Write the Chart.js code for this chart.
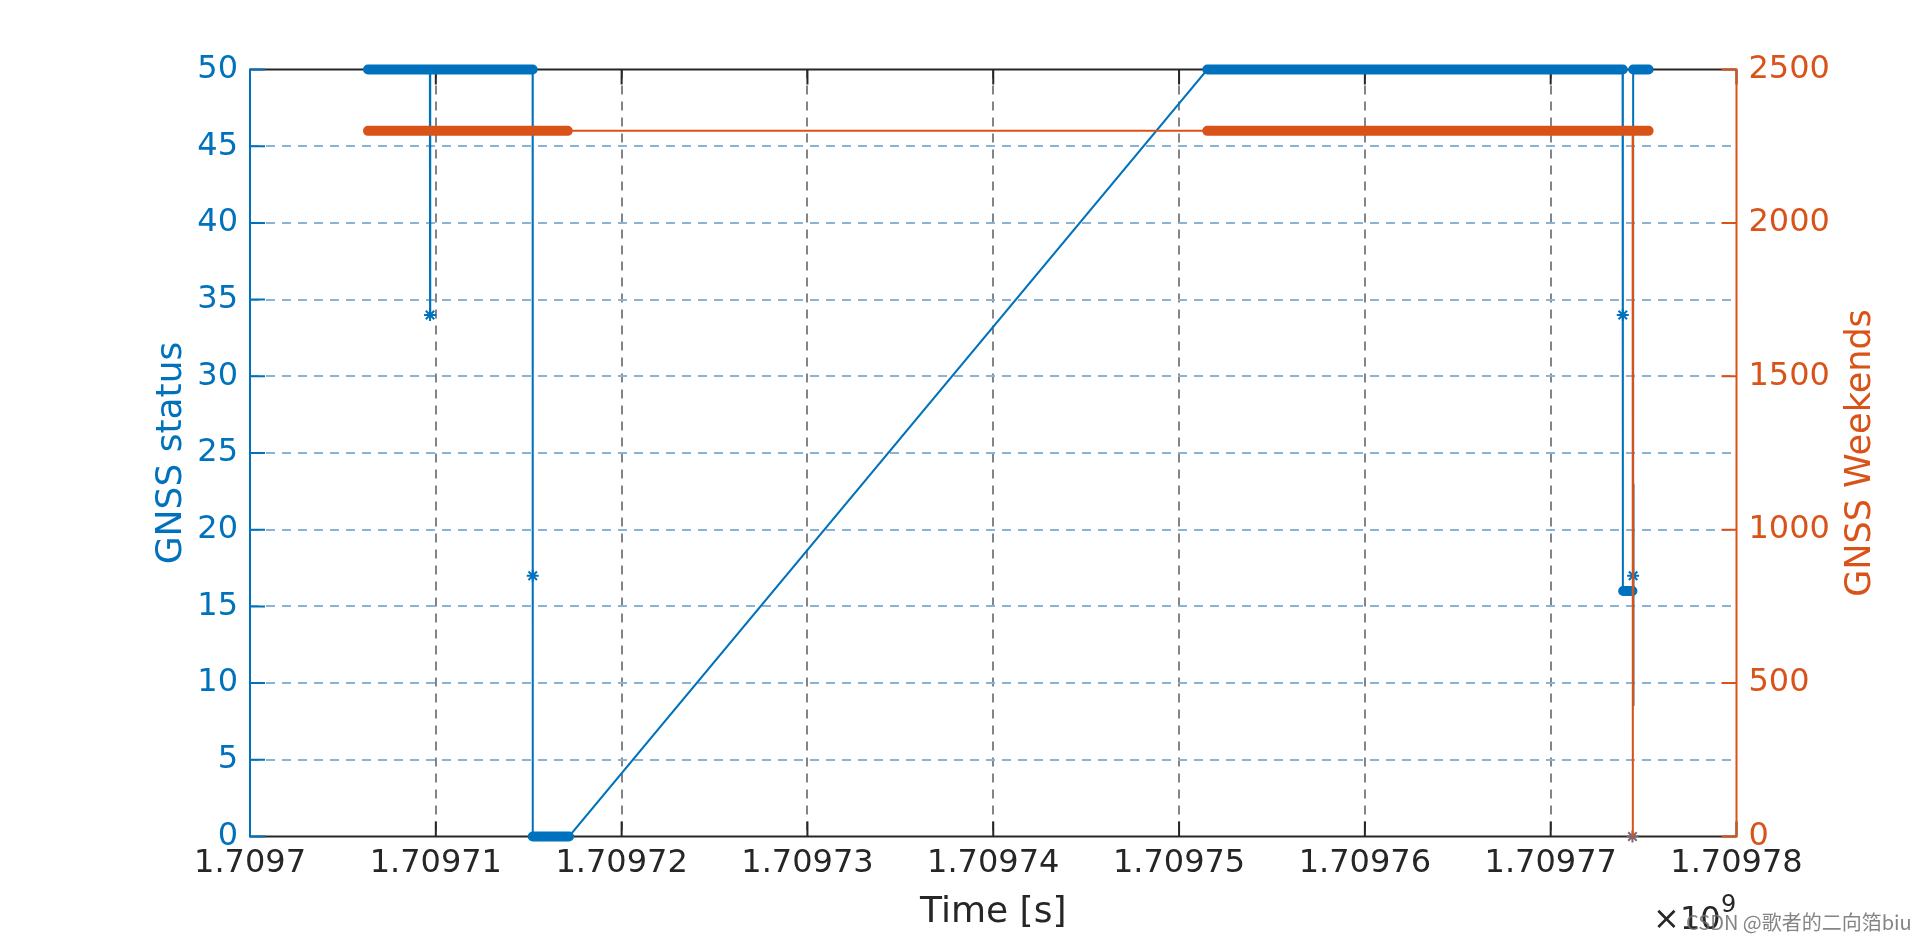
<!DOCTYPE html>
<html>
<head>
<meta charset="utf-8">
<script src="https://cdn.jsdelivr.net/npm/chart.js@4.4.0/dist/chart.umd.min.js"></script>
<style>
  body { margin: 0; background: #fff; }
  #wrap { position: relative; width: 1920px; height: 940px; }
  .note { position: absolute; white-space: nowrap; font-family: 'DejaVu Sans', sans-serif; color: #262626; }
</style>
</head>
<body>
<div id="wrap">
  <canvas id="myChart"></canvas>
  <div class="note" style="left:1653px; top:902px; font-size:32px; line-height:32px;">×</div>
  <div class="note" style="left:1680px; top:902px; font-size:32px; line-height:32px;">10</div>
  <div class="note" style="left:1721px; top:892px; font-size:24px; line-height:24px;">9</div>
  <div class="note" style="left:1686px; top:910px; font-size:20px; line-height:24px; color:rgba(110,110,110,0.85); font-family:'Noto Sans CJK SC', sans-serif;">CSDN @歌者的二向箔biu</div>
</div>
<script>
// GNSS status (left axis), thin line through every vertex
const statusTime = [1709706350, 1709709680, 1709709690, 1709709700, 1709715210, 1709715215, 1709715220,
  1709717170, 1709751520, 1709773870, 1709773880, 1709773890, 1709774430, 1709774436, 1709774440, 1709775270];
const statusValue = [50, 50, 34, 50, 50, 17, 0, 0, 50, 50, 34, 16, 16, 17, 50, 50];

// dense-sample stretches that show up as thick bands
const statusRunStart = [1709706350, 1709715215, 1709751520, 1709773900, 1709774440];
const statusRunEnd = [1709715215, 1709717170, 1709773880, 1709774400, 1709775270];
const statusRunValue = [50, 0, 50, 16, 50];

// single '*' markers that stand apart
const statusMarkTime = [1709709690, 1709715215, 1709773880, 1709774436];
const statusMarkValue = [34, 17, 34, 17];

// odd short grey trace near the end
const traceTime = [1709774470, 1709774470];
const traceValue = [23, 8.5];
const zeroMarkTime = [1709774400];
const zeroMarkValue = [0];

// GNSS week number (right axis)
const weekTime = [1709706350, 1709774410, 1709774420, 1709774430, 1709775270];
const weekValue = [2300, 2300, 0, 2300, 2300];
const weekRunStart = [1709706350, 1709751520];
const weekRunEnd = [1709717100, 1709775270];
const weekRunValue = [2300, 2300];

// axes
const xMin = 1709700000, xMax = 1709780000, xStep = 10000;
const statusMin = 0, statusMax = 50, statusStep = 5;
const weekMin = 0, weekMax = 2500, weekStep = 500;

const BLUE = '#0072BD';
const ORANGE = '#D95319';
const DARK = '#262626';
const FONT = "'DejaVu Sans', sans-serif";

function pairs(xs, ys) {
  return xs.map((x, i) => ({ x: x, y: ys[i] }));
}
function runs(starts, ends, vals) {
  var out = [];
  for (let i = 0; i < starts.length; i++) {
    out.push({ x: starts[i], y: vals[i] }, { x: ends[i], y: vals[i] }, { x: ends[i], y: null });
  }
  return out;
}
function edgeless(color, min, max) {
  return (ctx) => (ctx.tick && (ctx.tick.value === min || ctx.tick.value === max)) ? 'rgba(0,0,0,0)' : color;
}

// axis box + inward ticks, drawn under the data like MATLAB does
const boxPlugin = {
  id: 'box',
  beforeDatasetsDraw(chart) {
    const { ctx, chartArea: a, scales } = chart;
    const len = 15;
    ctx.save();
    ctx.lineWidth = 2;
    ctx.strokeStyle = DARK;
    ctx.beginPath();
    ctx.moveTo(a.left, a.top); ctx.lineTo(a.right, a.top);
    ctx.moveTo(a.left, a.bottom); ctx.lineTo(a.right, a.bottom);
    scales.x.ticks.forEach(t => {
      const px = scales.x.getPixelForValue(t.value);
      ctx.moveTo(px, a.bottom); ctx.lineTo(px, a.bottom - len);
      ctx.moveTo(px, a.top); ctx.lineTo(px, a.top + len);
    });
    ctx.stroke();

    ctx.strokeStyle = BLUE;
    ctx.beginPath();
    scales.y.ticks.forEach(t => {
      const py = scales.y.getPixelForValue(t.value);
      ctx.moveTo(a.left, py); ctx.lineTo(a.left + len, py);
    });
    ctx.moveTo(a.left, a.top - 1); ctx.lineTo(a.left, a.bottom + 1);
    ctx.stroke();

    ctx.strokeStyle = ORANGE;
    ctx.beginPath();
    scales.y2.ticks.forEach(t => {
      const py = scales.y2.getPixelForValue(t.value);
      ctx.moveTo(a.right, py); ctx.lineTo(a.right - len, py);
    });
    ctx.moveTo(a.right, a.top - 1); ctx.lineTo(a.right, a.bottom + 1);
    ctx.stroke();
    ctx.restore();
  },
  afterDraw(chart) {
    // right title reads bottom-to-top in the original
    const { ctx, chartArea: a } = chart;
    ctx.save();
    ctx.translate(a.right + 124, (a.top + a.bottom) / 2);
    ctx.rotate(-Math.PI / 2);
    ctx.font = '35px ' + FONT;
    ctx.fillStyle = ORANGE;
    ctx.textAlign = 'center';
    ctx.textBaseline = 'middle';
    ctx.fillText('GNSS Weekends', 0, 0);
    ctx.restore();
  }
};

const myChartRef = document.getElementById('myChart').getContext('2d');
new Chart(myChartRef, {
  type: 'scatter',
  data: {
    datasets: [
      {
        label: 'weeks bands', yAxisID: 'y2', data: runs(weekRunStart, weekRunEnd, weekRunValue), clip: false,
        showLine: true, spanGaps: false, borderColor: ORANGE, borderWidth: 10, borderCapStyle: 'round', pointRadius: 0
      },
      {
        label: 'weeks', yAxisID: 'y2', data: pairs(weekTime, weekValue), clip: false,
        showLine: true, borderColor: ORANGE, borderWidth: 2, pointRadius: 0
      },
      {
        label: 'zero mark', yAxisID: 'y', data: pairs(zeroMarkTime, zeroMarkValue), clip: false,
        pointStyle: 'star', pointRadius: 6, pointBorderWidth: 2, borderColor: '#7f6670', backgroundColor: '#7f6670'
      },
      {
        label: 'trace', yAxisID: 'y', data: pairs(traceTime, traceValue), clip: false,
        showLine: true, borderColor: '#52667a', borderWidth: 1.5, pointRadius: 0
      },
      {
        label: 'status marks', yAxisID: 'y', data: pairs(statusMarkTime, statusMarkValue), clip: false,
        pointStyle: 'star', pointRadius: 6, pointBorderWidth: 2, borderColor: BLUE, backgroundColor: BLUE
      },
      {
        label: 'status bands', yAxisID: 'y', data: runs(statusRunStart, statusRunEnd, statusRunValue), clip: false,
        showLine: true, spanGaps: false, borderColor: BLUE, borderWidth: 10, borderCapStyle: 'round', pointRadius: 0
      },
      {
        label: 'status', yAxisID: 'y', data: pairs(statusTime, statusValue), clip: false,
        showLine: true, borderColor: BLUE, borderWidth: 2, pointRadius: 0
      }
    ]
  },
  options: {
    responsive: true,
    maintainAspectRatio: false,
    animation: false,
    events: [],
    layout: { padding: { top: 69.5, left: 0, right: 0, bottom: 0 } },
    plugins: { legend: { display: false }, tooltip: { enabled: false } },
    scales: {
      x: {
        type: 'linear', min: xMin, max: xMax,
        afterFit: s => { s.height = 103.5; },
        ticks: {
          stepSize: xStep, padding: 8, color: DARK, font: { family: FONT, size: 32 },
          callback: v => String(Number((v / 1e9).toFixed(5)))
        },
        grid: { color: edgeless('#858585', xMin, xMax), lineWidth: 2, drawTicks: false },
        border: { display: false, dash: [9, 7] },
        title: { display: true, text: 'Time [s]', color: DARK, font: { family: FONT, size: 36 }, padding: { top: 0, bottom: 6 } }
      },
      y: {
        position: 'left', min: statusMin, max: statusMax,
        afterFit: s => { s.width = 250; },
        ticks: { stepSize: statusStep, padding: 12, color: BLUE, font: { family: FONT, size: 32 }, callback: v => String(v) },
        grid: { color: edgeless('#8cb4d2', statusMin, statusMax), lineWidth: 2, drawTicks: false },
        border: { display: false, dash: [9, 7] },
        title: { display: true, text: 'GNSS status', color: BLUE, font: { family: FONT, size: 36 }, padding: { top: 150, bottom: 0 } }
      },
      y2: {
        position: 'right', min: weekMin, max: weekMax,
        afterFit: s => { s.width = 183.5; },
        ticks: { stepSize: weekStep, padding: 12, color: ORANGE, font: { family: FONT, size: 32 }, callback: v => String(v) },
        grid: { display: false, drawTicks: false },
        border: { display: false }
      }
    }
  },
  plugins: [boxPlugin]
});
</script>
</body>
</html>
